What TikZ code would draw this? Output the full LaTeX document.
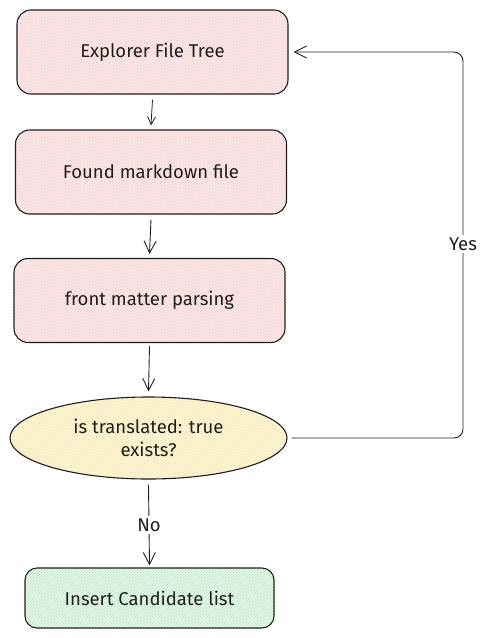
\documentclass[tikz,border=0pt]{standalone}
\usepackage{fontspec}
\setmainfont{Fira Sans}
\usetikzlibrary{arrows.meta,patterns,shapes.geometric}
\definecolor{ink}{HTML}{1E1E1E}
\definecolor{pinkbg}{HTML}{FFF3F3}
\definecolor{pinkln}{HTML}{F8C0C0}
\definecolor{yelbg}{HTML}{FFFBEA}
\definecolor{yelln}{HTML}{F5E090}
\definecolor{grnbg}{HTML}{F0FCF2}
\definecolor{grnln}{HTML}{A8E6B2}
\tikzset{
  every node/.style={font=\fontsize{18.5}{23}\selectfont, text=ink},
  pinkbox/.style={draw=ink, line width=1.1pt, rounded corners=14pt,
    preaction={fill=pinkbg}, pattern=north east lines, pattern color=pinkln,
    minimum width=271pt, minimum height=84pt},
  grnbox/.style={draw=ink, line width=1.1pt, rounded corners=12pt,
    preaction={fill=grnbg}, pattern=north east lines, pattern color=grnln,
    minimum width=249pt, minimum height=60pt},
  decision/.style={ellipse, draw=ink, line width=1.1pt, inner sep=0pt,
    preaction={fill=yelbg}, pattern=north east lines, pattern color=yelln,
    minimum width=277pt, minimum height=82pt, align=center},
  arr/.style={draw=ink, line width=0.9pt, -{Straight Barb[length=12pt,width=12pt,line width=0.9pt]}},
  arrsmall/.style={draw=ink, line width=0.8pt, -{Straight Barb[length=8pt,width=8pt,line width=0.8pt]}},
  lbl/.style={fill=white, inner sep=3pt}
}
\begin{document}
\begin{tikzpicture}[x=1pt,y=-1pt]
\useasboundingbox (0,0) rectangle (488,638);
\node[pinkbox] (b1) at (152.5,52) {Explorer File Tree};
\node[pinkbox] (b2) at (151,172) {Found markdown file};
\node[pinkbox] (b3) at (149.5,300.5) {front matter parsing};
\node[decision] (d) at (148.5,438) {is translated: true\\exists?};
\node[grnbox] (b4) at (149.5,598) {Insert Candidate list};
\coordinate (c1) at (463,438);
\coordinate (c2) at (463,52);
\draw[arrsmall] ([yshift=-5pt]b1.south) -- ([yshift=4pt]b2.north);
\draw[arr] ([yshift=-5pt]b2.south) -- ([yshift=4pt]b3.north);
\draw[arr] ([yshift=-3pt]b3.south) -- ([yshift=5pt]d.north);
\draw[arr] ([yshift=-5pt]d.south) -- node[lbl] (no) {No} ([yshift=2pt]b4.north);
\draw[arr, rounded corners=9pt] ([xshift=4pt]d.east) -- (c1) -- (c2) -- ([xshift=5pt]b1.east);
\node[lbl] (yes) at (463,244) {Yes};
\end{tikzpicture}
\end{document}
